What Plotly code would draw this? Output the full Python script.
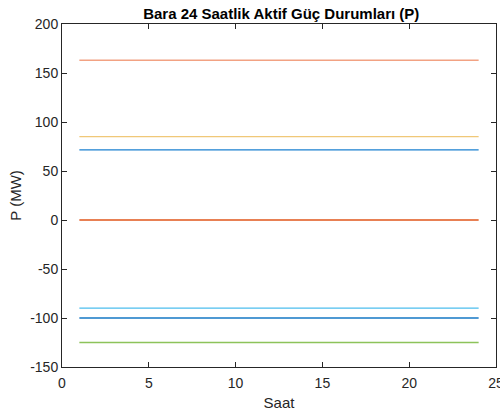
import plotly.graph_objects as go

hours = [1, 2, 3, 4, 5, 6, 7, 8, 9, 10, 11, 12, 13, 14, 15, 16, 17, 18, 19, 20, 21, 22, 23, 24]

p_163 = [163, 163, 163, 163, 163, 163, 163, 163, 163, 163, 163, 163,
         163, 163, 163, 163, 163, 163, 163, 163, 163, 163, 163, 163]
p_85 = [85, 85, 85, 85, 85, 85, 85, 85, 85, 85, 85, 85,
        85, 85, 85, 85, 85, 85, 85, 85, 85, 85, 85, 85]
p_72 = [71.5, 71.5, 71.5, 71.5, 71.5, 71.5, 71.5, 71.5, 71.5, 71.5, 71.5, 71.5,
        71.5, 71.5, 71.5, 71.5, 71.5, 71.5, 71.5, 71.5, 71.5, 71.5, 71.5, 71.5]
p_0 = [0, 0, 0, 0, 0, 0, 0, 0, 0, 0, 0, 0,
       0, 0, 0, 0, 0, 0, 0, 0, 0, 0, 0, 0]
p_m90 = [-90, -90, -90, -90, -90, -90, -90, -90, -90, -90, -90, -90,
         -90, -90, -90, -90, -90, -90, -90, -90, -90, -90, -90, -90]
p_m100 = [-100, -100, -100, -100, -100, -100, -100, -100, -100, -100, -100, -100,
          -100, -100, -100, -100, -100, -100, -100, -100, -100, -100, -100, -100]
p_m125 = [-125, -125, -125, -125, -125, -125, -125, -125, -125, -125, -125, -125,
          -125, -125, -125, -125, -125, -125, -125, -125, -125, -125, -125, -125]

x_ticks = [0, 5, 10, 15, 20, 25]
x_tick_labels = ["0", "5", "10", "15", "20", "25"]
y_ticks = [-150, -100, -50, 0, 50, 100, 150, 200]
y_tick_labels = ["-150", "-100", "-50", "0", "50", "100", "150", "200"]

series = [
    (p_163, "#F2A283"),
    (p_85, "#F0C878"),
    (p_72, "#1A80D0"),
    (p_0, "#E0561B"),
    (p_m90, "#4DBEEE"),
    (p_m100, "#1577C4"),
    (p_m125, "#8DC35A"),
]

fig = go.Figure()
for vals, col in series:
    fig.add_trace(go.Scatter(x=hours, y=vals, mode="lines",
                             line=dict(color=col, width=1.3), showlegend=False,
                             hoverinfo="skip"))

font = "Arial, Liberation Sans, sans-serif"
axis_common = dict(
    showgrid=False, zeroline=False, showline=True, linecolor="#262626", linewidth=1,
    mirror="ticks", ticks="inside", ticklen=5, tickcolor="#262626", automargin=False,
    ticklabeloverflow="allow",
    tickfont=dict(family=font, size=14, color="#262626"),
)

fig.update_layout(
    width=500, height=415,
    margin=dict(l=62, r=4, t=24, b=48),
    paper_bgcolor="white", plot_bgcolor="white",
    title=dict(text="<b>Bara 24 Saatlik Aktif Güç Durumları (P)</b>",
               x=0.5625, xanchor="center", y=0.967, yanchor="middle",
               font=dict(family=font, size=15, color="black")),
    xaxis=dict(range=[0, 25], tickvals=x_ticks, ticktext=x_tick_labels,
               ticklabelstandoff=3,
               title=dict(text="Saat", font=dict(family=font, size=15, color="#262626"), standoff=7),
               **axis_common),
    yaxis=dict(range=[-150, 200], tickvals=y_ticks, ticktext=y_tick_labels,
               title=dict(text="P (MW)", font=dict(family=font, size=15, color="#262626"), standoff=4),
               **axis_common),
)

fig.write_html(
    "out.html",
    config={"displayModeBar": False},
    post_script="document.body.style.margin='0';document.body.style.overflow='hidden';",
)
